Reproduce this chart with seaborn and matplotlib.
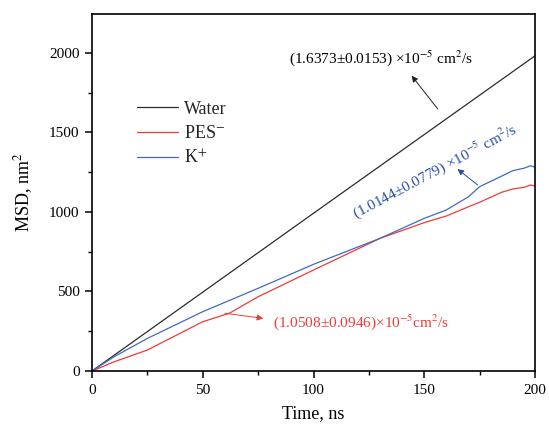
import numpy as np
import pandas as pd
import matplotlib
matplotlib.use('Agg')
import matplotlib.pyplot as plt
from matplotlib.ticker import MultipleLocator
import seaborn as sns

# ── Data ──────────────────────────────────────────────────────────────────────
water_t   = [0, 50, 100, 150, 200]
water_msd = [0, 496, 992, 1487, 1982]

k_t   = [0, 10, 25, 50, 75, 100, 130, 150, 160, 170, 175, 185, 190, 195, 198, 200]
k_msd = [0, 90, 205, 373, 520, 671, 834, 960, 1013, 1096, 1159, 1226, 1260, 1275, 1291, 1281]

pes_t   = [0, 10, 25, 50, 62, 75, 100, 130, 150, 160, 170, 175, 185, 190, 195, 198, 200]
pes_msd = [0, 58, 132, 310, 363, 467, 635, 834, 933, 975, 1033, 1061, 1124, 1145, 1155, 1170, 1163]

labels = ['Water', 'PES$^{-}$', 'K$^{+}$']
colors = ['#2b2b2b', '#f03a3a', '#4169c0']

df = pd.concat([
    pd.DataFrame({'Time': water_t, 'MSD': water_msd, 'Species': labels[0]}),
    pd.DataFrame({'Time': pes_t, 'MSD': pes_msd, 'Species': labels[1]}),
    pd.DataFrame({'Time': k_t, 'MSD': k_msd, 'Species': labels[2]}),
])

# ── Style ─────────────────────────────────────────────────────────────────────
sns.set_theme(style='ticks')
plt.rcParams['font.family'] = ['Liberation Serif', 'DejaVu Serif']
plt.rcParams['mathtext.fontset'] = 'stix'
plt.rcParams['xtick.direction'] = 'out'
plt.rcParams['ytick.direction'] = 'out'

fig = plt.figure(figsize=(5.49, 4.26), dpi=100)
ax = fig.add_axes([0.1676, 0.1291, 0.8069, 0.838])

sns.lineplot(data=df, x='Time', y='MSD', hue='Species', hue_order=labels,
             palette=dict(zip(labels, colors)), linewidth=0.9, ax=ax,
             estimator=None, sort=False)

ax.set_xlim(0, 200)
ax.set_ylim(0, 2245)
ax.xaxis.set_major_locator(MultipleLocator(50))
ax.xaxis.set_minor_locator(MultipleLocator(25))
ax.yaxis.set_major_locator(MultipleLocator(500))
ax.yaxis.set_minor_locator(MultipleLocator(250))
ax.tick_params(which='major', length=5, width=1.1, labelsize=11, pad=4,
               color='black', labelcolor='black')
ax.tick_params(which='minor', length=3, width=1.0, color='black')
for s in ax.spines.values():
    s.set_visible(True)
    s.set_linewidth(1.2)
    s.set_color('black')

ax.set_xlabel('Time, ns', fontsize=13, color='black', labelpad=6)
ax.set_ylabel('MSD, nm$^{2}$', fontsize=13, color='black', labelpad=10)

leg = ax.legend(loc='upper left', bbox_to_anchor=(0.101, 0.757), frameon=False,
                fontsize=13, handlelength=2.3, handletextpad=0.3, labelspacing=0.4,
                borderpad=0, borderaxespad=0)
leg.set_title(None)

# ── Annotations ───────────────────────────────────────────────────────────────
arrow = dict(arrowstyle='-|>', lw=0.7, mutation_scale=9, shrinkA=0, shrinkB=0)

ax.text(130.3, 1965, '(1.6373±0.0153) ×10$^{-5}$ cm$^{2}$/s', fontsize=11,
        color='black', ha='center', va='center')
ax.annotate('', xy=(144.3, 1857), xytext=(156.1, 1648),
            arrowprops=dict(arrow, color='#222222'))

ax.text(154.9, 1258, '(1.0144±0.0779) ×10$^{-5}$ cm$^{2}$/s', fontsize=11,
        color='#2a4ea6', ha='center', va='center', rotation=28,
        rotation_mode='anchor')
ax.annotate('', xy=(165.0, 1270), xytext=(174.1, 1170),
            arrowprops=dict(arrow, color='#2a4ea6'))

ax.text(121.6, 310, '(1.0508±0.0946)×10$^{-5}$cm$^{2}$/s', fontsize=11,
        color='#f03a3a', ha='center', va='center')
ax.annotate('', xy=(77.3, 331), xytext=(60.0, 363),
            arrowprops=dict(arrow, color='#f03a3a'))

fig.savefig('out.png', dpi=100)
